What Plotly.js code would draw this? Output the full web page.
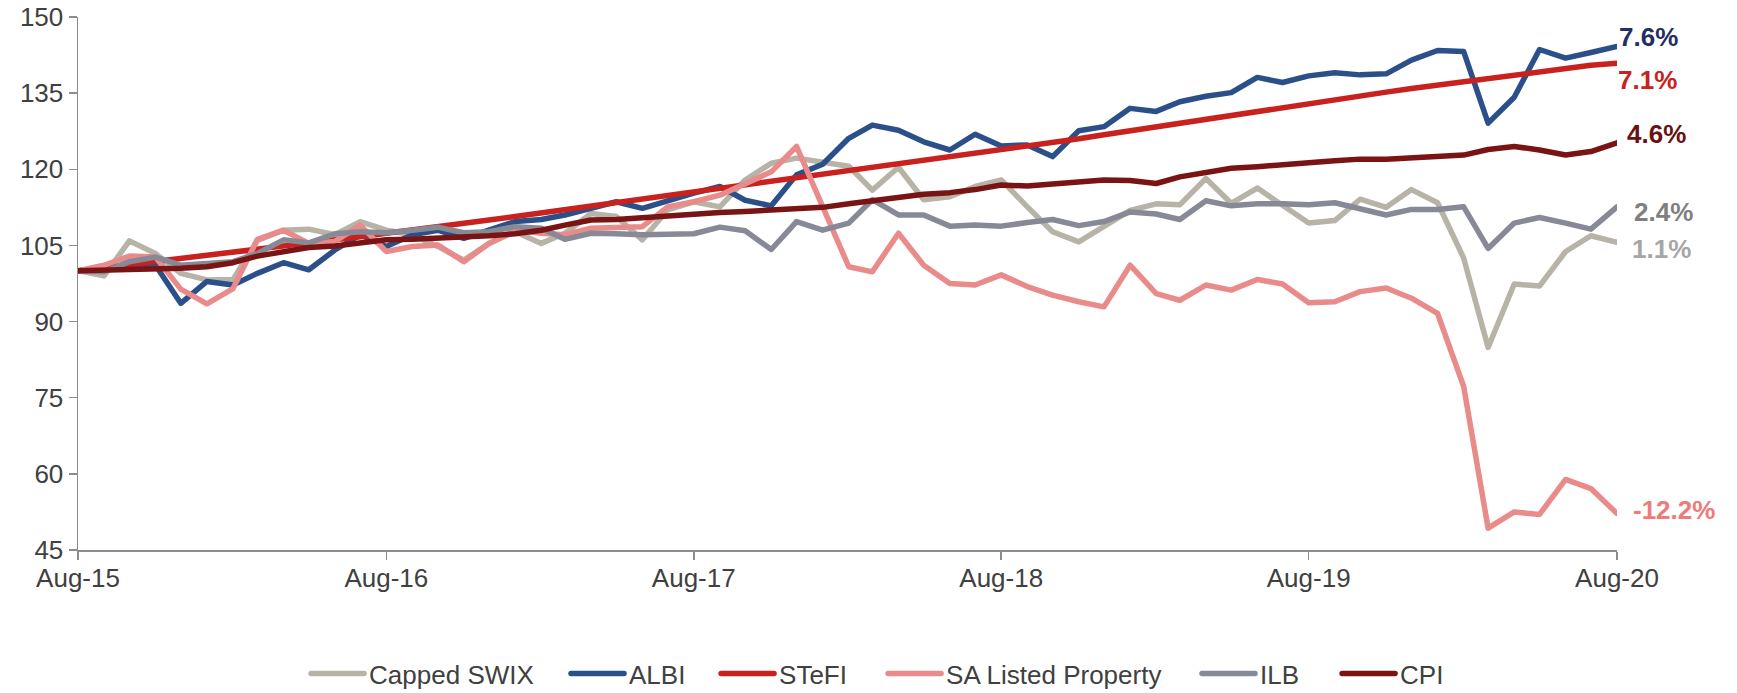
<!DOCTYPE html>
<html>
<head>
<meta charset="utf-8">
<script src="https://cdn.plot.ly/plotly-3.0.1.min.js"></script>
<style>
  html, body { margin: 0; padding: 0; background: #ffffff; }
  #chart { width: 1737px; height: 693px; }
  path.js-line { stroke-linejoin: round !important; stroke-linecap: round; }
</style>
</head>
<body>
<div id="chart"></div>
<script>
// Monthly dates, Aug-2015 .. Aug-2020
const months = [
  '2015-08','2015-09','2015-10','2015-11','2015-12',
  '2016-01','2016-02','2016-03','2016-04','2016-05','2016-06','2016-07','2016-08','2016-09','2016-10','2016-11','2016-12',
  '2017-01','2017-02','2017-03','2017-04','2017-05','2017-06','2017-07','2017-08','2017-09','2017-10','2017-11','2017-12',
  '2018-01','2018-02','2018-03','2018-04','2018-05','2018-06','2018-07','2018-08','2018-09','2018-10','2018-11','2018-12',
  '2019-01','2019-02','2019-03','2019-04','2019-05','2019-06','2019-07','2019-08','2019-09','2019-10','2019-11','2019-12',
  '2020-01','2020-02','2020-03','2020-04','2020-05','2020-06','2020-07','2020-08'
];

const cappedSWIX = [
  100.0, 99.0, 105.9, 103.4, 99.5, 98.2, 98.3, 106.0, 108.0, 108.2, 107.1, 109.7, 108.0,
  107.1, 104.8, 102.1, 105.4, 107.7, 105.4, 107.4, 111.3, 110.7, 106.1, 112.0, 113.6,
  112.6, 117.9, 121.2, 122.2, 121.5, 120.6, 115.9, 120.4, 114.0, 114.6, 116.6, 117.9,
  112.6, 107.7, 105.7, 108.7, 111.9, 113.2, 113.0, 118.2, 113.3, 116.3, 112.8, 109.4,
  109.9, 114.1, 112.5, 116.0, 113.4, 102.5, 84.9, 97.4, 97.0, 103.8, 106.9, 105.6
];

const albi = [
  100.0, 100.5, 101.0, 101.1, 93.6, 97.9, 97.2, 99.5, 101.6, 100.2, 104.1, 107.1, 104.8,
  107.1, 108.0, 106.4, 108.0, 109.7, 110.1, 111.0, 112.3, 113.6, 112.3, 113.9, 115.3,
  116.6, 113.9, 112.8, 118.9, 121.0, 126.1, 128.7, 127.7, 125.4, 123.8, 126.9, 124.6,
  124.8, 122.5, 127.6, 128.4, 132.0, 131.4, 133.3, 134.4, 135.1, 138.1, 137.1, 138.4,
  139.0, 138.6, 138.8, 141.5, 143.4, 143.2, 129.1, 134.2, 143.6, 141.9, 143.0, 144.2
];

const stefi = [
  100.0, 100.6, 101.2, 101.8, 102.4, 103.0, 103.6, 104.2, 104.9, 105.5, 106.1, 106.7, 107.4,
  108.0, 108.7, 109.4, 110.0, 110.7, 111.4, 112.1, 112.8, 113.5, 114.2, 114.9, 115.6,
  116.3, 117.0, 117.6, 118.3, 119.0, 119.7, 120.4, 121.1, 121.8, 122.5, 123.2, 123.9,
  124.6, 125.3, 126.0, 126.8, 127.6, 128.3, 129.1, 129.9, 130.7, 131.5, 132.2, 133.0,
  133.8, 134.5, 135.2, 135.9, 136.6, 137.3, 138.0, 138.7, 139.3, 139.9, 140.5, 140.9
];

const saListedProperty = [
  100.0, 101.1, 102.9, 102.7, 96.4, 93.5, 96.5, 106.2, 108.0, 105.4, 105.8, 109.0, 103.8,
  104.8, 105.1, 101.8, 105.4, 108.0, 107.4, 107.1, 108.4, 108.5, 108.7, 112.6, 113.6,
  114.9, 117.2, 119.5, 124.5, 112.6, 100.8, 99.8, 107.4, 101.1, 97.5, 97.2, 99.2,
  96.9, 95.2, 93.9, 92.9, 101.1, 95.5, 94.2, 97.2, 96.2, 98.3, 97.4, 93.7,
  93.9, 95.9, 96.6, 94.6, 91.6, 77.2, 49.3, 52.5, 52.0, 58.9, 57.1, 52.2
];

const ilb = [
  100.0, 99.8, 101.8, 102.7, 101.1, 101.5, 101.8, 103.4, 106.1, 105.5, 107.3, 107.7, 107.5,
  108.0, 108.6, 107.5, 107.7, 108.7, 108.4, 106.2, 107.4, 107.3, 107.1, 107.2, 107.3,
  108.6, 107.9, 104.2, 109.7, 108.0, 109.4, 114.0, 111.0, 111.0, 108.8, 109.0, 108.8,
  109.5, 110.1, 108.9, 109.7, 111.6, 111.2, 110.1, 113.8, 112.8, 113.2, 113.2, 113.0,
  113.4, 112.3, 111.0, 112.1, 112.1, 112.6, 104.4, 109.4, 110.5, 109.4, 108.2, 112.6
];

const cpi = [
  100.0, 100.1, 100.3, 100.4, 100.5, 100.8, 101.6, 102.9, 103.8, 104.6, 104.9, 105.4, 106.1,
  106.2, 106.4, 106.6, 106.9, 107.3, 108.0, 109.0, 110.0, 110.1, 110.5, 110.8, 111.1,
  111.5, 111.7, 111.9, 112.1, 112.5, 113.2, 113.8, 114.3, 115.1, 115.4, 116.0, 116.9,
  116.7, 117.1, 117.6, 117.9, 117.8, 117.2, 118.5, 119.5, 120.2, 120.5, 120.8, 121.3,
  121.7, 122.0, 122.0, 122.2, 122.5, 122.8, 123.9, 124.5, 123.8, 122.8, 123.5, 125.2
];

const seriesNames = ['Capped SWIX', 'ALBI', 'STeFI', 'SA Listed Property', 'ILB', 'CPI'];
const endLabels = ['1.1%', '7.6%', '7.1%', '-12.2%', '2.4%', '4.6%'];
const yTickVals = [45, 60, 75, 90, 105, 120, 135, 150];
const xTickVals = ['2015-08', '2016-08', '2017-08', '2018-08', '2019-08', '2020-08'];
const xTickText = ['Aug-15', 'Aug-16', 'Aug-17', 'Aug-18', 'Aug-19', 'Aug-20'];

// styles
const lineColors = ['#B7B3A7', '#2B5089', '#C8211E', '#E98B8A', '#878A96', '#7A1414'];
const labelColors = ['#A6A6A6', '#1F2F63', '#C8211E', '#EE7B7A', '#7F7F7F', '#6A1010'];
// end-label placement (vertical position in axis units, horizontal shift px)
const labelY = [104.2, 146.0, 137.6, 52.9, 111.6, 127.0];
const labelShift = [13, 0, -1, 14, 15, 8];
// legend entry positions (paper x)
const legendX = [0.1482, 0.3171, 0.4146, 0.5231, 0.7271, 0.8181];

const seriesData = [cappedSWIX, albi, stefi, saListedProperty, ilb, cpi];
const legendIds = ['legend', 'legend2', 'legend3', 'legend4', 'legend5', 'legend6'];

const traces = seriesData.map((vals, k) => ({
  type: 'scatter',
  mode: 'lines',
  name: seriesNames[k],
  x: months,
  y: vals,
  legend: legendIds[k],
  line: { color: lineColors[k], width: 5.5 },
  hoverinfo: 'skip'
}));

const annotations = seriesData.map((vals, k) => ({
  x: months[months.length - 1],
  y: labelY[k],
  xref: 'x', yref: 'y',
  text: '<b>' + endLabels[k] + '</b>',
  showarrow: false,
  xanchor: 'left',
  yanchor: 'middle',
  xshift: labelShift[k],
  font: { family: 'Liberation Sans, Arial, sans-serif', size: 26, color: labelColors[k] }
}));

const axisGray = '#8C8C8C';
const textGray = '#404040';

const layout = {
  width: 1737,
  height: 693,
  margin: { l: 78, r: 120, t: 17, b: 143, pad: 0, autoexpand: false },
  paper_bgcolor: '#ffffff',
  plot_bgcolor: '#ffffff',
  font: { family: 'Liberation Sans, Arial, sans-serif', size: 26, color: textGray },
  showlegend: true,
  xaxis: {
    type: 'date',
    range: ['2015-08-01', '2020-08-01'],
    tickvals: xTickVals,
    ticktext: xTickText,
    showgrid: false,
    zeroline: false,
    showline: true,
    linecolor: axisGray,
    linewidth: 1.5,
    ticks: 'outside',
    ticklen: 8,
    tickwidth: 1.5,
    tickcolor: axisGray,
    ticklabelstandoff: -4,
    tickfont: { size: 26, color: textGray },
    fixedrange: true
  },
  yaxis: {
    range: [45, 150],
    tickvals: yTickVals,
    showgrid: false,
    zeroline: false,
    showline: true,
    linecolor: axisGray,
    linewidth: 1.5,
    ticks: 'outside',
    ticklen: 8,
    tickwidth: 1.5,
    tickcolor: axisGray,
    ticklabelstandoff: 0,
    tickfont: { size: 26, color: textGray },
    fixedrange: true
  },
  annotations: annotations
};

legendIds.forEach((id, k) => {
  layout[id] = {
    orientation: 'h',
    x: legendX[k], xanchor: 'left',
    y: -0.2317, yanchor: 'middle',
    font: { size: 26, color: textGray },
    bgcolor: 'rgba(0,0,0,0)',
    borderwidth: 0,
    itemwidth: 53
  };
});

Plotly.newPlot('chart', traces, layout, { displayModeBar: false, staticPlot: true });
</script>
</body>
</html>
